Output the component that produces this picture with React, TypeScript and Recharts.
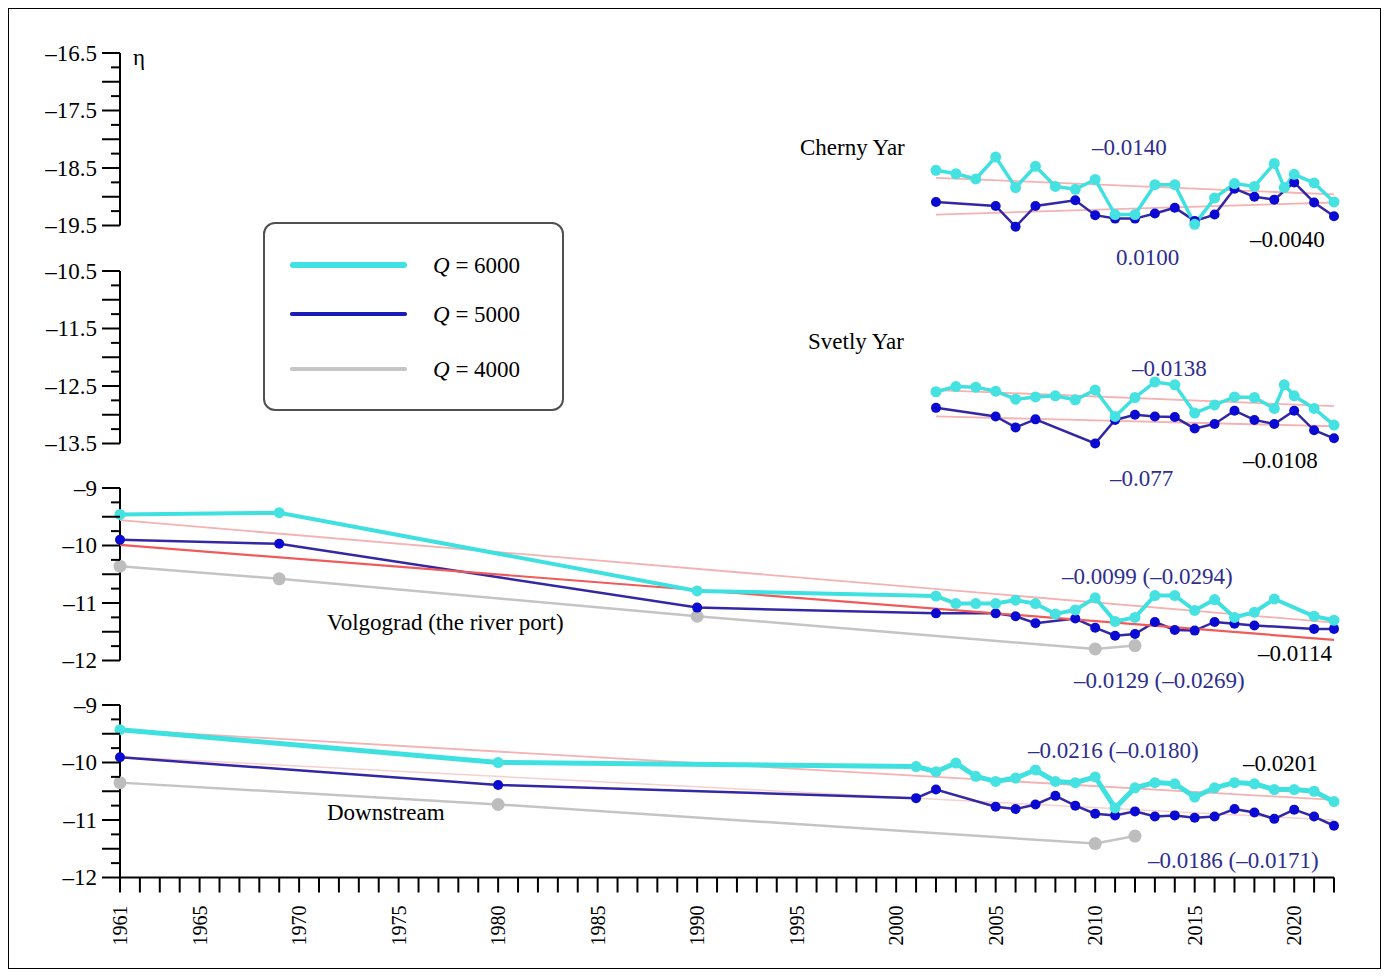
import React from 'react';
import { ComposedChart, Line, XAxis, YAxis, ReferenceLine } from 'recharts';

// ---- data ----
const cyYears6000 = [2002, 2003, 2004, 2005, 2006, 2007, 2008, 2009, 2010, 2011, 2012, 2013, 2014, 2015, 2016, 2017, 2018, 2019, 2019.5, 2020, 2021, 2022];
const cyQ6000 = [-18.54, -18.6, -18.69, -18.31, -18.84, -18.47, -18.82, -18.87, -18.7, -19.31, -19.31, -18.79, -18.79, -19.48, -19.02, -18.77, -18.82, -18.42, -18.84, -18.61, -18.76, -19.09];
const cyYears5000 = [2002, 2005, 2006, 2007, 2009, 2010, 2011, 2012, 2013, 2014, 2015, 2016, 2017, 2018, 2019, 2020, 2021, 2022];
const cyQ5000 = [-19.09, -19.16, -19.52, -19.16, -19.06, -19.32, -19.38, -19.38, -19.29, -19.19, -19.42, -19.31, -18.86, -19.0, -19.05, -18.75, -19.1, -19.34];
const cyTrendYears = [2002, 2022];
const cyTrend6000 = [-18.67, -18.96];
const cyTrend5000 = [-19.31, -19.1];

const syYears6000 = cyYears6000;
const syQ6000 = [-12.6, -12.51, -12.52, -12.59, -12.73, -12.69, -12.67, -12.74, -12.57, -13.03, -12.7, -12.43, -12.48, -12.97, -12.83, -12.69, -12.7, -12.89, -12.48, -12.67, -12.89, -13.18];
const syYears5000 = [2002, 2005, 2006, 2007, 2010, 2011, 2012, 2013, 2014, 2015, 2016, 2017, 2018, 2019, 2020, 2021, 2022];
const syQ5000 = [-12.88, -13.03, -13.22, -13.08, -13.5, -13.09, -13.0, -13.03, -13.04, -13.24, -13.16, -12.93, -13.09, -13.16, -12.93, -13.27, -13.41];
const syTrendYears = [2002, 2022];
const syTrend6000 = [-12.57, -12.85];
const syTrend5000 = [-13.03, -13.2];

const vgYears6000 = [1961, 1969, 1990, 2002, 2003, 2004, 2005, 2006, 2007, 2008, 2009, 2010, 2011, 2012, 2013, 2014, 2015, 2016, 2017, 2018, 2019, 2021, 2022];
const vgQ6000 = [-9.46, -9.43, -10.79, -10.88, -11.01, -11.01, -11.01, -10.95, -11.01, -11.19, -11.12, -10.91, -11.32, -11.25, -10.87, -10.87, -11.13, -10.94, -11.25, -11.16, -10.93, -11.23, -11.3];
const vgYears5000 = [1961, 1969, 1990, 2002, 2005, 2006, 2007, 2009, 2010, 2011, 2012, 2013, 2014, 2015, 2016, 2017, 2018, 2021, 2022];
const vgQ5000 = [-9.9, -9.97, -11.08, -11.18, -11.18, -11.23, -11.35, -11.27, -11.43, -11.57, -11.54, -11.33, -11.47, -11.48, -11.33, -11.36, -11.39, -11.45, -11.45];
const vgYears4000 = [1961, 1969, 1990, 2010, 2012];
const vgQ4000 = [-10.36, -10.58, -11.23, -11.8, -11.74];
const vgTrendYears = [1961, 2022];
const vgTrend6000 = [-9.56, -11.34];
const vgTrend5000 = [-9.99, -11.64];

const dsYears6000 = [1961, 1980, 2001, 2002, 2003, 2004, 2005, 2006, 2007, 2008, 2009, 2010, 2011, 2012, 2013, 2014, 2015, 2016, 2017, 2018, 2019, 2020, 2021, 2022];
const dsQ6000 = [-9.43, -10.0, -10.07, -10.16, -10.01, -10.24, -10.33, -10.27, -10.13, -10.33, -10.35, -10.25, -10.79, -10.44, -10.35, -10.37, -10.6, -10.44, -10.35, -10.37, -10.47, -10.47, -10.5, -10.68];
const dsYears5000 = [1961, 1980, 2001, 2002, 2005, 2006, 2007, 2008, 2009, 2010, 2011, 2012, 2013, 2014, 2015, 2016, 2017, 2018, 2019, 2020, 2021, 2022];
const dsQ5000 = [-9.91, -10.39, -10.62, -10.47, -10.77, -10.81, -10.73, -10.58, -10.75, -10.89, -10.92, -10.85, -10.94, -10.92, -10.96, -10.94, -10.81, -10.87, -10.98, -10.82, -10.94, -11.1];
const dsYears4000 = [1961, 1980, 2010, 2012];
const dsQ4000 = [-10.35, -10.73, -11.41, -11.28];
const dsTrendYears = [1961, 2022];
const dsTrend6000 = [-9.43, -10.65];
const dsTrend5000 = [-9.9, -11.0];

const labelYears = [1961, 1965, 1970, 1975, 1980, 1985, 1990, 1995, 2000, 2005, 2010, 2015, 2020];
const legendItems = [
  { q: '6000', color: '#3ee2e2', h: 6 },
  { q: '5000', color: '#1c1cb4', h: 3.5 },
  { q: '4000', color: '#c6c6c6', h: 3.5 },
];
const notes = [
  { t: 'Cherny Yar', x: 800, y: 147, c: '#000' },
  { t: '–0.0140', x: 1092, y: 147, c: '#2e2e8f' },
  { t: '0.0100', x: 1116, y: 257, c: '#2e2e8f' },
  { t: '–0.0040', x: 1250, y: 239, c: '#000' },
  { t: 'Svetly Yar', x: 808, y: 341, c: '#000' },
  { t: '–0.0138', x: 1132, y: 368, c: '#2e2e8f' },
  { t: '–0.077', x: 1110, y: 478, c: '#2e2e8f' },
  { t: '–0.0108', x: 1243, y: 460, c: '#000' },
  { t: 'Volgograd (the river port)', x: 327, y: 622, c: '#000' },
  { t: '–0.0099 (–0.0294)', x: 1062, y: 576, c: '#2e2e8f' },
  { t: '–0.0129 (–0.0269)', x: 1074, y: 680, c: '#2e2e8f' },
  { t: '–0.0114', x: 1258, y: 653, c: '#000' },
  { t: 'Downstream', x: 327, y: 812, c: '#000' },
  { t: '–0.0216 (–0.0180)', x: 1028, y: 750, c: '#2e2e8f' },
  { t: '–0.0201', x: 1243, y: 763, c: '#000' },
  { t: '–0.0186 (–0.0171)', x: 1148, y: 860, c: '#2e2e8f' },
  { t: 'η', x: 133, y: 57, c: '#000' },
];

// ---- layout ----
const FONT = '"Liberation Serif", "Times New Roman", serif';
const W = 1371;
const H = 959;
const AXIS_X = 111; // left edge of the plot, where the stacked y axes sit
const PLOT_H = 824.5;
const K = 57.5; // px per unit of eta
const panels = [
  { id: 'cy', top: -16.5, off: 0, labels: [-16.5, -17.5, -18.5, -19.5] },
  { id: 'sy', top: -10.5, off: 218, labels: [-10.5, -11.5, -12.5, -13.5] },
  { id: 'vg', top: -9, off: 435, labels: [-9, -10, -11, -12] },
  { id: 'ds', top: -9, off: 652, labels: [-9, -10, -11, -12] },
];

const CYAN = '#3ee0e0';
const BLUE_LINE = '#3327a4';
const BLUE_DOT = '#0a0ad2';
const GRAY = '#c4c4c4';
const RED = '#ef5a5a';
const PINK = '#f4b2b2';

const pts = (years: number[], vals: number[]) => years.map((year, i) => ({ year, v: vals[i] }));
const fmt = (v: number) => (v < 0 ? '–' : '') + String(Math.abs(v));

const YTick = (props: any) => {
  const { y, payload, labels } = props;
  const x = AXIS_X;
  const v = payload.value;
  const major = Math.abs(v * 2 - Math.round(v * 2)) < 1e-6;
  const len = major ? 18 : 9;
  return (
    <g>
      <line x1={x - len} x2={x} y1={y} y2={y} stroke="#000" strokeWidth={2} />
      {labels.some((l: number) => Math.abs(l - v) < 1e-6) && (
        <text x={x - 23} y={y} textAnchor="end" dominantBaseline="central" fontSize={23} fontFamily={FONT} fill="#000">
          {fmt(v)}
        </text>
      )}
    </g>
  );
};

const XTick = (props: any) => {
  const { x, y, payload } = props;
  const yr = payload.value;
  return (
    <g>
      <line x1={x} x2={x} y1={y} y2={y + 15} stroke="#000" strokeWidth={2} />
      {labelYears.includes(yr) && (
        <text
          x={x}
          y={y + 28}
          transform={`rotate(-90, ${x}, ${y + 28})`}
          textAnchor="end"
          dominantBaseline="central"
          fontSize={20}
          fontFamily={FONT}
          fill="#000"
        >
          {yr}
        </text>
      )}
    </g>
  );
};

const allYears: number[] = [];
for (let y = 1961; y <= 2022; y++) allYears.push(y);

const panelTicks = (top: number) => {
  const t: number[] = [];
  for (let i = 0; i <= 12; i++) t.push(top - i * 0.25);
  return t;
};

const domainFor = (top: number, off: number): [number, number] => {
  const hi = top + off / K;
  return [hi - PLOT_H / K, hi];
};

const Note = ({ t, x, y, c }: any) => (
  <div
    style={{
      position: 'absolute',
      left: x - 9,
      top: y - 9,
      transform: 'translateY(-50%)',
      color: c,
      fontSize: 23,
      lineHeight: 1,
      whiteSpace: 'nowrap',
    }}
  >
    {t}
  </div>
);

const cyanLine = (id: string, data: any[], w = 4) => (
  <Line
    key={id + '6000'}
    yAxisId={id}
    data={data}
    dataKey="v"
    type="linear"
    stroke={CYAN}
    strokeWidth={w}
    dot={{ r: 5.5, fill: '#46e2e2', stroke: 'none' }}
    activeDot={false}
    isAnimationActive={false}
  />
);
const blueLine = (id: string, data: any[]) => (
  <Line
    key={id + '5000'}
    yAxisId={id}
    data={data}
    dataKey="v"
    type="linear"
    stroke={BLUE_LINE}
    strokeWidth={2.5}
    dot={{ r: 5, fill: BLUE_DOT, stroke: 'none' }}
    activeDot={false}
    isAnimationActive={false}
  />
);
const grayLine = (id: string, data: any[]) => (
  <Line
    key={id + '4000'}
    yAxisId={id}
    data={data}
    dataKey="v"
    type="linear"
    stroke={GRAY}
    strokeWidth={2.5}
    dot={{ r: 6.5, fill: '#bdbdbd', stroke: 'none' }}
    activeDot={false}
    isAnimationActive={false}
  />
);
const trendLine = (key: string, id: string, data: any[], color: string, w: number) => (
  <Line
    key={key}
    yAxisId={id}
    data={data}
    dataKey="v"
    type="linear"
    stroke={color}
    strokeWidth={w}
    dot={false}
    activeDot={false}
    isAnimationActive={false}
  />
);

export default function App() {
  return (
    <div
      style={{
        position: 'relative',
        width: 1373,
        height: 961,
        border: '1px solid #000',
        boxSizing: 'border-box',
        background: '#fff',
        fontFamily: FONT,
      }}
    >
      <div style={{ position: 'absolute', left: 0, top: 0 }}>
        <ComposedChart width={W} height={H} margin={{ top: 44, right: 46, bottom: 30.5, left: AXIS_X - panels.length }}>
          <XAxis
            dataKey="year"
            type="number"
            domain={[1961, 2022]}
            ticks={allYears}
            interval={0}
            height={60}
            axisLine={{ stroke: '#000', strokeWidth: 2 }}
            tickLine={false}
            tickSize={0}
            tickMargin={0}
            tick={<XTick />}
          />
          {panels.map((p) => (
            <YAxis
              key={p.id}
              yAxisId={p.id}
              type="number"
              domain={domainFor(p.top, p.off)}
              width={1}
              axisLine={false}
              tickLine={false}
              tickSize={0}
              tickMargin={0}
              ticks={panelTicks(p.top)}
              interval={0}
              tick={<YTick labels={p.labels} />}
            />
          ))}
          {panels.map((p) => (
            <ReferenceLine
              key={'ax' + p.id}
              yAxisId={p.id}
              segment={[
                { x: 1961, y: p.top },
                { x: 1961, y: p.top - 3 },
              ]}
              stroke="#000"
              strokeWidth={2}
              ifOverflow="visible"
            />
          ))}

          {trendLine('cyt1', 'cy', pts(cyTrendYears, cyTrend6000), PINK, 1.8)}
          {trendLine('cyt2', 'cy', pts(cyTrendYears, cyTrend5000), PINK, 1.8)}
          {blueLine('cy', pts(cyYears5000, cyQ5000))}
          {cyanLine('cy', pts(cyYears6000, cyQ6000), 3.5)}

          {trendLine('syt1', 'sy', pts(syTrendYears, syTrend6000), PINK, 1.8)}
          {trendLine('syt2', 'sy', pts(syTrendYears, syTrend5000), PINK, 1.8)}
          {blueLine('sy', pts(syYears5000, syQ5000))}
          {cyanLine('sy', pts(syYears6000, syQ6000), 3.5)}

          {trendLine('vgt1', 'vg', pts(vgTrendYears, vgTrend6000), PINK, 1.8)}
          {grayLine('vg', pts(vgYears4000, vgQ4000))}
          {blueLine('vg', pts(vgYears5000, vgQ5000))}
          {trendLine('vgt2', 'vg', pts(vgTrendYears, vgTrend5000), RED, 2.2)}
          {cyanLine('vg', pts(vgYears6000, vgQ6000), 4)}

          {trendLine('dst1', 'ds', pts(dsTrendYears, dsTrend6000), PINK, 1.8)}
          {trendLine('dst2', 'ds', pts(dsTrendYears, dsTrend5000), '#f6d0d0', 1.5)}
          {grayLine('ds', pts(dsYears4000, dsQ4000))}
          {blueLine('ds', pts(dsYears5000, dsQ5000))}
          {cyanLine('ds', pts(dsYears6000, dsQ6000), 5)}
        </ComposedChart>
      </div>

      {notes.map((n, i) => (
        <Note key={i} {...n} />
      ))}

      {/* legend box */}
      <div
        style={{
          position: 'absolute',
          left: 263 - 9,
          top: 222 - 9,
          width: 301,
          height: 189,
          border: '2px solid #505050',
          borderRadius: 12,
          boxSizing: 'border-box',
          background: '#fff',
        }}
      />
      {legendItems.map((it, i) => {
        const cy = [265, 314, 369][i];
        return (
          <React.Fragment key={it.q}>
            <div
              style={{
                position: 'absolute',
                left: 290 - 9,
                top: cy - 9 - it.h / 2,
                width: 117,
                height: it.h,
                borderRadius: it.h / 2,
                background: it.color,
              }}
            />
            <div
              style={{
                position: 'absolute',
                left: 433 - 9,
                top: cy - 9,
                transform: 'translateY(-50%)',
                fontSize: 23,
                lineHeight: 1,
                whiteSpace: 'nowrap',
                color: '#000',
              }}
            >
              <i>Q</i> = {it.q}
            </div>
          </React.Fragment>
        );
      })}
    </div>
  );
}
